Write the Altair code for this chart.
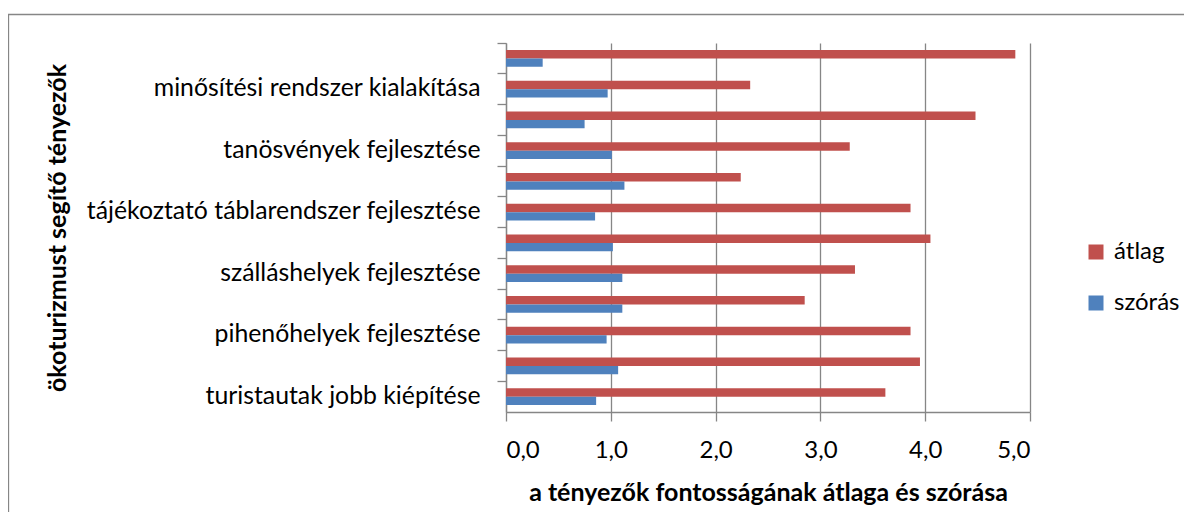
import altair as alt
import pandas as pd

# categories listed top to bottom (unnamed ones are not labelled in the source chart)
categories = [
    "#12",
    "minősítési rendszer kialakítása",
    "#10",
    "tanösvények fejlesztése",
    "#8",
    "tájékoztató táblarendszer fejlesztése",
    "#6",
    "szálláshelyek fejlesztése",
    "#4",
    "pihenőhelyek fejlesztése",
    "#2",
    "turistautak jobb kiépítése",
]
atlag = [4.86, 2.33, 4.48, 3.28, 2.24, 3.86, 4.05, 3.33, 2.85, 3.86, 3.95, 3.62]
szoras = [0.35, 0.97, 0.75, 1.01, 1.13, 0.85, 1.02, 1.11, 1.11, 0.96, 1.07, 0.86]
series = ["átlag", "szórás"]
colors = ["#C0504D", "#4F81BD"]
x_ticks = [0, 1, 2, 3, 4, 5]

rows = []
for c, a, s in zip(categories, atlag, szoras):
    rows.append({"category": c, "series": series[0], "value": a})
    rows.append({"category": c, "series": series[1], "value": s})
df = pd.DataFrame(rows)

FONT = "Lato"
GRAY = "#868686"
LABEL_SIZE = 24.8
LEGEND_SIZE = 24
TICK_SIZE = 24
TITLE_SIZE = 25

x_enc = alt.X(
    "value:Q",
    scale=alt.Scale(domain=[0, 5], nice=False),
    axis=alt.Axis(
        values=x_ticks,
        labelExpr="replace(format(datum.value, '.1f'), '.', ',')",
        title="a tényezők fontosságának átlaga és szórása",
        grid=True,
        gridColor=GRAY,
        gridWidth=1.3,
        domainColor=GRAY,
        domainWidth=1.3,
        tickColor=GRAY,
        tickWidth=1.3,
        tickSize=9,
        labelPadding=17,
        labelFontSize=TICK_SIZE,
        labelColor="#000000",
        labelFont=FONT,
        titleFont=FONT,
        titleFontSize=TITLE_SIZE,
        titleFontWeight="bold",
        titleColor="#000000",
        titleY=80,
        titleBaseline="middle",
    ),
)

base = alt.Chart(df)

bars = base.mark_bar().encode(
    x=x_enc,
    y=alt.Y(
        "category:N",
        sort=categories,
        scale=alt.Scale(paddingInner=0, paddingOuter=0),
        axis=alt.Axis(
            labelExpr="indexof(datum.label, '#') === 0 ? '' : datum.label",
            ticks=False,
            labelPadding=26,
            labelLimit=0,
            labelFontSize=LABEL_SIZE,
            labelFont=FONT,
            labelColor="#000000",
            domainColor=GRAY,
            domainWidth=1.3,
            title="ökoturizmust segítő tényezők",
            titleFont=FONT,
            titleFontSize=TITLE_SIZE,
            titleFontWeight="bold",
            titleColor="#000000",
            titleX=-449,
            titleBaseline="middle",
            orient="left",
        ),
    ),
    yOffset=alt.YOffset(
        "series:N", sort=series, scale=alt.Scale(paddingInner=0, paddingOuter=0.82)
    ),
    color=alt.Color(
        "series:N",
        sort=series,
        scale=alt.Scale(domain=series, range=colors),
        legend=alt.Legend(
            title="",
            orient="none",
            legendX=578,
            legendY=197,
            symbolType="square",
            symbolSize=225,
            symbolStrokeWidth=0,
            labelFontSize=LEGEND_SIZE,
            labelFont=FONT,
            labelColor="#000000",
            labelLimit=0,
            rowPadding=27,
            labelOffset=6,
        ),
    ),
)

tick_layer = base.mark_bar(opacity=0).encode(
    x=x_enc,
    y=alt.Y(
        "category:N",
        sort=categories,
        scale=alt.Scale(paddingInner=0, paddingOuter=0),
        axis=alt.Axis(
            orient="left",
            labels=False,
            domain=False,
            grid=False,
            ticks=True,
            tickSize=9,
            tickColor=GRAY,
            tickWidth=1.3,
            bandPosition=0,
            title="",
        ),
    ),
)

frame_df = pd.DataFrame({"k": [0]})
frame_top = alt.Chart(frame_df).mark_rule(color=GRAY, strokeWidth=1.3).encode(
    x=alt.value(-498), x2=alt.value(700), y=alt.value(-28.5)
)
frame_left = alt.Chart(frame_df).mark_rule(color=GRAY, strokeWidth=1.3).encode(
    x=alt.value(-497.5), y=alt.value(-28.5), y2=alt.value(600)
)

chart = (
    alt.layer(bars, tick_layer, frame_top, frame_left)
    .resolve_axis(y="independent")
    .properties(
        width=524,
        height=369,
        autosize=alt.AutoSizeParams(type="none"),
        padding={"left": 498, "top": 35, "right": 154, "bottom": 100},
    )
    .configure(font=FONT)
    .configure_view(strokeWidth=0)
)

chart.save("out.html", embed_options={"renderer": "svg", "actions": False})
